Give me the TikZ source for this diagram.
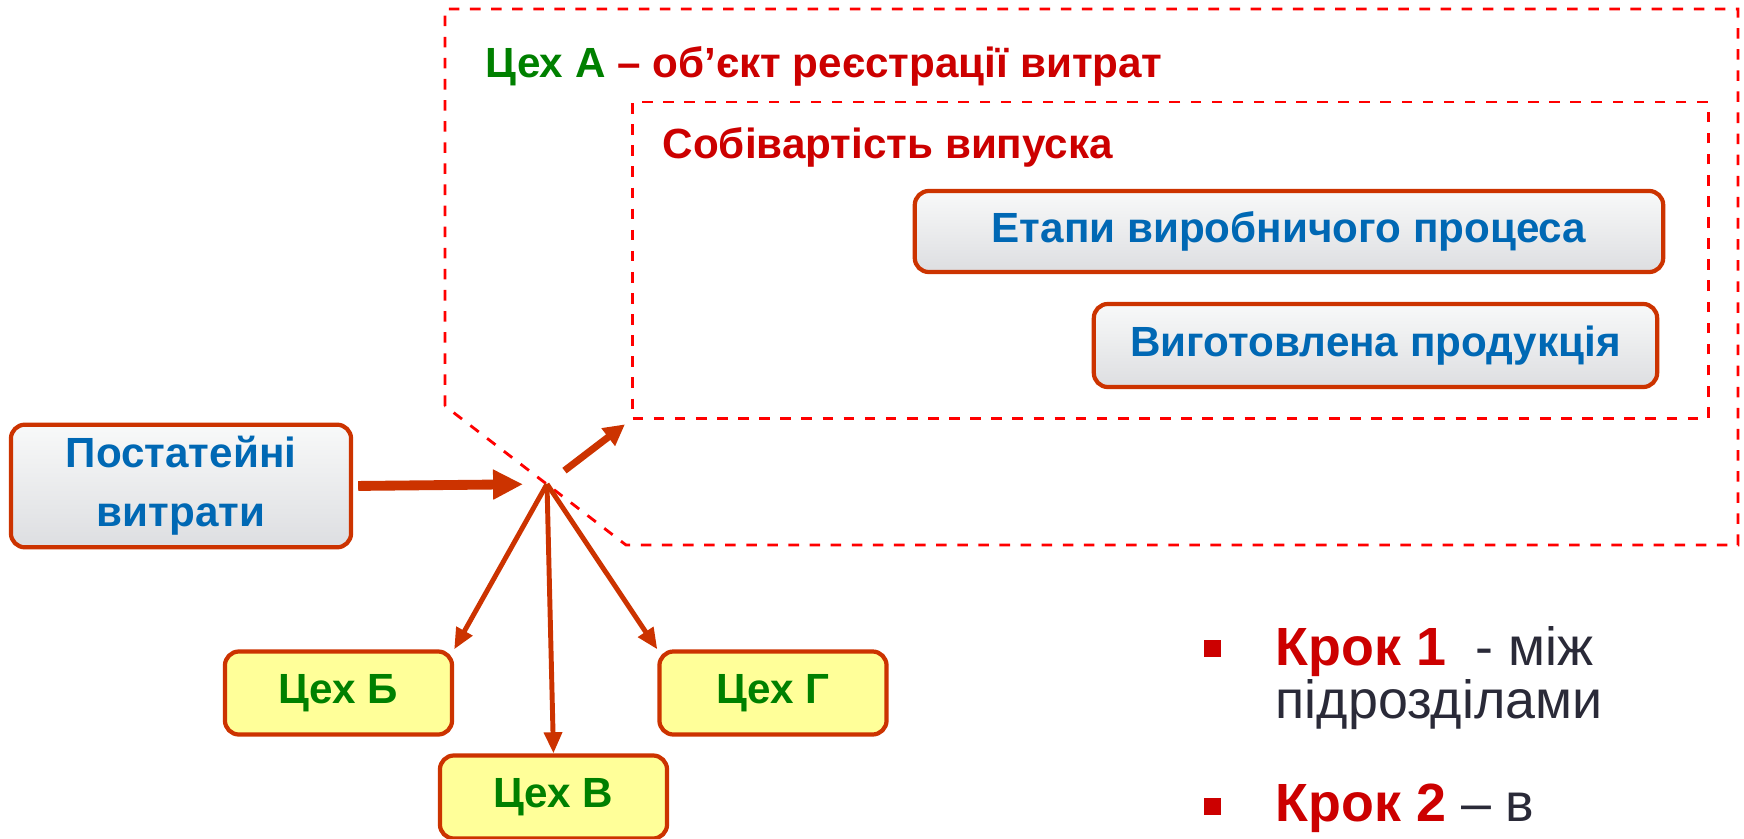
\documentclass[tikz,border=0pt]{standalone}
\usepackage{fontspec}
\setmainfont{Liberation Sans}
\usetikzlibrary{arrows.meta}
\definecolor{costblue}{RGB}{0,104,180}
\definecolor{shopgreen}{RGB}{0,128,0}
\definecolor{titlered}{RGB}{204,0,0}
\definecolor{edgeorange}{RGB}{204,51,0}
\definecolor{dashred}{RGB}{255,0,0}
\definecolor{shopfill}{RGB}{255,255,153}
\definecolor{boxtop}{RGB}{248,249,249}
\definecolor{boxbottom}{RGB}{221,222,225}
\definecolor{darktext}{RGB}{42,42,56}
\begin{document}
\begin{tikzpicture}[x=0.01cm, y=-0.01cm,
   greybox/.style={draw=edgeorange, line width=1.2pt, rounded corners=4pt, top color=boxtop, bottom color=boxbottom, text=costblue, align=center, font=\bfseries\fontsize{12}{16.8}\selectfont},
   shopbox/.style={draw=edgeorange, line width=1.2pt, rounded corners=4pt, fill=shopfill, text=shopgreen, minimum width=2.27cm, minimum height=0.83cm, font=\bfseries\fontsize{12}{14}\selectfont},
   zone/.style={draw=dashred, dashed, line width=0.8pt},
   flow/.style={draw=edgeorange, line width=1.4pt, -{Triangle[length=6pt,width=5pt]}},
   stepfont/.style={font=\fontsize{15.3}{15.3}\selectfont, text=darktext, inner sep=0pt}]
\useasboundingbox (0,0) rectangle (1744,839);

\coordinate (wcl) at (445,406);
\coordinate (wtl) at (445,9);
\coordinate (wtr) at (1738,9);
\coordinate (wbr) at (1738,545);
\coordinate (wbl) at (626,545);
\coordinate (hub) at (547,484);

\draw[zone] (wcl) -- (wtl) -- (wtr) -- (wbr) -- (wbl) -- cycle;
\node[zone, minimum width=10.75cm, minimum height=3.16cm] (batch) at (1170.5,260) {};

\node[anchor=west, inner sep=0pt, font=\bfseries\fontsize{12}{14}\selectfont] (shopA) at (485,66)
   {\textcolor{shopgreen}{Цех А} \textcolor{titlered}{– об’єкт реєстрації витрат}};
\node[anchor=west, inner sep=0pt, text=titlered, font=\bfseries\fontsize{12}{14}\selectfont] (cost) at (662,147) {Собівартість випуска};

\node[greybox, minimum width=7.48cm, minimum height=0.81cm] (stages) at (1289,231.5) {Етапи виробничого процеса};
\node[greybox, minimum width=5.63cm, minimum height=0.83cm] (output) at (1375.5,345.5) {Виготовлена продукція};
\node[greybox, minimum width=3.4cm, minimum height=1.21cm] (items) at (181,486) {Постатейні\\витрати};

\node[shopbox] (shopB) at (338.5,693) {Цех Б};
\node[shopbox] (shopV) at (553.5,797) {Цех В};
\node[shopbox] (shopG) at (773,693) {Цех Г};

\draw[edgeorange, line width=2.8pt, -{Triangle[length=8.5pt,width=8pt]}, shorten <=0.05cm, shorten >=0.24cm] (items.east) -- (hub);
\draw[edgeorange, line width=2pt, -{Triangle[length=6pt,width=6pt]}, shorten <=0.22cm, shorten >=0.08cm] (hub) -- (batch.south west);
\foreach \s/\a in {shopB/north east, shopV/north, shopG/north west}
       \draw[flow] (hub) -- (\s.\a);

\foreach \y in {648,806}
       \node[fill=titlered, minimum size=0.17cm, inner sep=0pt] at (1212,\y) {};
\node[stepfont, anchor=base west] (step1) at (1275,665) {\textcolor{titlered}{\bfseries Крок 1}\ \ - між};
\node[stepfont, anchor=base west] (step1cont) at (1275,718) {підрозділами};
\node[stepfont, anchor=base west] (step2) at (1275,821) {\textcolor{titlered}{\bfseries Крок 2} – в};
\end{tikzpicture}
\end{document}
